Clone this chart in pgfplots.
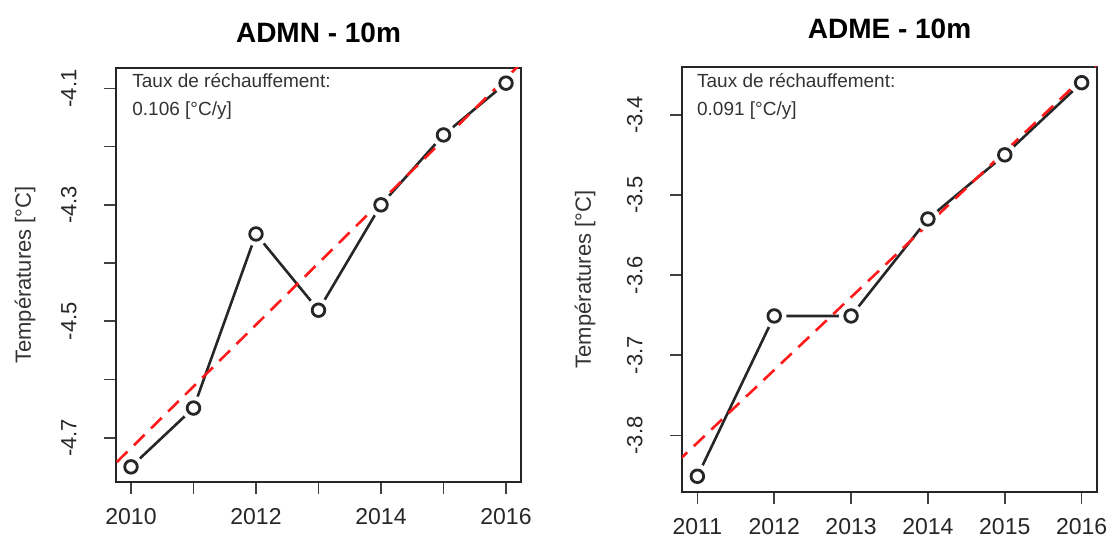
\documentclass[border=0pt]{standalone}
\usepackage{pgfplots}
\pgfplotsset{compat=1.18}
\usepackage{fontspec}
\setmainfont{Liberation Sans}
\tikzset{annot/.style={font=\fontsize{19}{22}\selectfont, text=black!80, anchor=base west, inner sep=0pt}}
\begin{document}
\begin{tikzpicture}
\path[use as bounding box] (0pt,0pt) rectangle (1117pt,545pt);
\pgfplotsset{
 rstyle/.style={
  scale only axis,
  axis line style={line width=2.6pt, black!85},
  every tick/.style={line width=1.6pt, black!75},
  major tick length=12pt,
  minor tick length=0pt,
  tick align=outside,
  tick pos=left,
  ticklabel style={font=\fontsize{23}{26}\selectfont, text=black!85},
  yticklabel style={font=\fontsize{22}{25}\selectfont, xshift=-24pt, rotate=90, anchor=south},
  xticklabel shift=11pt,
  title style={font=\bfseries\fontsize{28}{32}\selectfont, anchor=center},
  ylabel style={font=\fontsize{22}{25}\selectfont, text=black!80, anchor=center},
  clip=true,
 },
 dataline/.style={black!85, line width=2.6pt, mark=none},
 gapmarks/.style={white, only marks, mark=*, mark size=12pt, mark options={draw=white, fill=white}},
 circmarks/.style={black!85, only marks, mark=o, mark size=6.3pt, mark options={draw=black!85, line width=2.8pt, fill=white}},
 regline/.style={red!90!white, line width=2.6pt, dash pattern=on 15pt off 9pt, mark=none},
}
% ---------------- Left panel ----------------
\begin{axis}[rstyle,
  at={(116pt,63pt)}, anchor=south west,
  width=405pt, height=414pt,
  xmin=2009.76, xmax=2016.24, ymin=-4.776, ymax=-4.065,
  xtick={2010,2011,2012,2013,2014,2015,2016},
  xticklabels={2010,,2012,,2014,,2016},
  ytick={-4.7,-4.6,-4.5,-4.4,-4.3,-4.2,-4.1},
  yticklabels={-4.7,,-4.5,,-4.3,,-4.1},
  title={ADMN - 10m},
  title style={at={(axis description cs:0.5,1.070)}},
  ylabel={Températures [°C]},
  ylabel style={at={(axis description cs:-0.2247,0.5)}},
]
\addplot[dataline] coordinates {(2010,-4.75) (2011,-4.649) (2012,-4.35) (2013,-4.481) (2014,-4.30) (2015,-4.18) (2016,-4.091)};
\addplot[gapmarks] coordinates {(2010,-4.75) (2011,-4.649) (2012,-4.35) (2013,-4.481) (2014,-4.30) (2015,-4.18) (2016,-4.091)};
\addplot[circmarks] coordinates {(2010,-4.75) (2011,-4.649) (2012,-4.35) (2013,-4.481) (2014,-4.30) (2015,-4.18) (2016,-4.091)};
\addplot[regline] coordinates {(2009.5,-4.7708) (2016.5,-4.0294)};
\node[annot] at (axis description cs:0.040,0.952) {Taux de réchauffement:};
\node[annot] at (axis description cs:0.040,0.886) {0.106 [°C/y]};
\end{axis}
% ---------------- Right panel ----------------
\begin{axis}[rstyle,
  at={(682pt,53pt)}, anchor=south west,
  width=415pt, height=425pt,
  xmin=2010.8, xmax=2016.2, ymin=-3.8706, ymax=-3.3404,
  xtick={2011,2012,2013,2014,2015,2016},
  xticklabels={2011,2012,2013,2014,2015,2016},
  ytick={-3.8,-3.7,-3.6,-3.5,-3.4},
  yticklabels={-3.8,-3.7,-3.6,-3.5,-3.4},
  title={ADME - 10m},
  title style={at={(axis description cs:0.5,1.075)}},
  ylabel={Températures [°C]},
  ylabel style={at={(axis description cs:-0.2337,0.5)}},
]
\addplot[dataline] coordinates {(2011,-3.851) (2012,-3.651) (2013,-3.651) (2014,-3.530) (2015,-3.450) (2016,-3.360)};
\addplot[gapmarks] coordinates {(2011,-3.851) (2012,-3.651) (2013,-3.651) (2014,-3.530) (2015,-3.450) (2016,-3.360)};
\addplot[circmarks] coordinates {(2011,-3.851) (2012,-3.651) (2013,-3.651) (2014,-3.530) (2015,-3.450) (2016,-3.360)};
\addplot[regline] coordinates {(2010.5,-3.8546) (2016.5,-3.3098)};
\node[annot] at (axis description cs:0.036,0.951) {Taux de réchauffement:};
\node[annot] at (axis description cs:0.036,0.887) {0.091 [°C/y]};
\end{axis}
\end{tikzpicture}
\end{document}
